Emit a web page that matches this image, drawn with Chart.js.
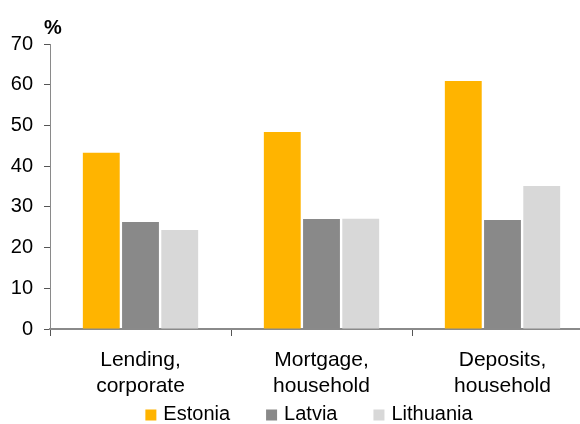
<!DOCTYPE html>
<html>
<head>
<meta charset="utf-8">
<script src="https://cdn.jsdelivr.net/npm/chart.js@4/dist/chart.umd.min.js"></script>
<style>
  html, body { margin: 0; padding: 0; background: #fff; overflow: hidden; }
  #wrap { width: 594px; height: 424px; }
</style>
</head>
<body>
<div id="wrap"><canvas id="chart" width="594" height="424"></canvas></div>
<script>
const categories = [['Lending,', 'corporate'], ['Mortgage,', 'household'], ['Deposits,', 'household']];
const seriesNames = ['Estonia', 'Latvia', 'Lithuania'];
const estonia = [43.3, 48.4, 60.9];
const latvia = [26.3, 27.0, 26.8];
const lithuania = [24.3, 27.1, 35.1];
const yTicks = [0, 10, 20, 30, 40, 50, 60, 70];
const colors = ['#ffb400', '#898989', '#d8d8d8'];

const FONT = "'Liberation Sans', Arial, sans-serif";

// unit label above the y axis
const unitLabel = {
    id: 'unitLabel',
    afterDraw(chart) {
        const ctx = chart.ctx;
        ctx.save();
        ctx.font = 'bold 20px ' + FONT;
        ctx.fillStyle = '#000';
        ctx.textAlign = 'left';
        ctx.textBaseline = 'alphabetic';
        ctx.fillText('%', chart.chartArea.left - 6, 34);
        ctx.restore();
    }
};

// legend row under the category labels
const bottomLegend = {
    id: 'bottomLegend',
    afterDraw(chart) {
        const ctx = chart.ctx;
        const box = 11, textGap = 7, itemGap = 36, centerX = 309, midY = 414;
        ctx.save();
        ctx.font = '20px ' + FONT;
        const items = chart.data.datasets.map(ds => ({
            label: ds.label, color: ds.backgroundColor, w: ctx.measureText(ds.label).width
        }));
        let total = 0;
        items.forEach((it, i) => { total += box + textGap + it.w + (i < items.length - 1 ? itemGap : 0); });
        let x = centerX - total / 2;
        ctx.textBaseline = 'middle';
        ctx.textAlign = 'left';
        items.forEach(it => {
            ctx.fillStyle = it.color;
            ctx.fillRect(x, midY - box / 2 + 1, box, box);
            ctx.fillStyle = '#000';
            ctx.fillText(it.label, x + box + textGap, midY);
            x += box + textGap + it.w + itemGap;
        });
        ctx.restore();
    }
};

const ctx = document.getElementById('chart').getContext('2d');
new Chart(ctx, {
    type: 'bar',
    data: {
        labels: categories,
        datasets: [estonia, latvia, lithuania].map((vals, i) => ({
            label: seriesNames[i],
            data: vals,
            backgroundColor: colors[i],
            borderWidth: 0,
            barPercentage: 0.94,
            categoryPercentage: 0.65
        }))
    },
    options: {
        responsive: false,
        animation: false,
        devicePixelRatio: 1,
        layout: { padding: { top: 44, right: 1, bottom: 20, left: 0 } },
        plugins: {
            legend: { display: false },
            tooltip: { enabled: false }
        },
        scales: {
            x: {
                offset: true,
                grid: { offset: true, drawOnChartArea: false, drawTicks: true, tickLength: 7, color: '#555' },
                border: { color: '#8a8a8a', width: 2 },
                ticks: { color: '#000', font: { family: FONT, size: 21, lineHeight: 1.24 }, padding: 11, maxRotation: 0 },
                afterFit(scale) { scale.height = 75; }
            },
            y: {
                min: 0,
                max: 70,
                afterBuildTicks(scale) { scale.ticks = yTicks.map(v => ({ value: v })); },
                grid: { drawOnChartArea: false, drawTicks: true, tickLength: 6, color: '#555' },
                border: { color: '#8a8a8a' },
                ticks: { color: '#000', font: { family: FONT, size: 20 }, padding: 11 },
                afterFit(scale) { scale.width = 50; }
            }
        }
    },
    plugins: [unitLabel, bottomLegend]
});
</script>
</body>
</html>
